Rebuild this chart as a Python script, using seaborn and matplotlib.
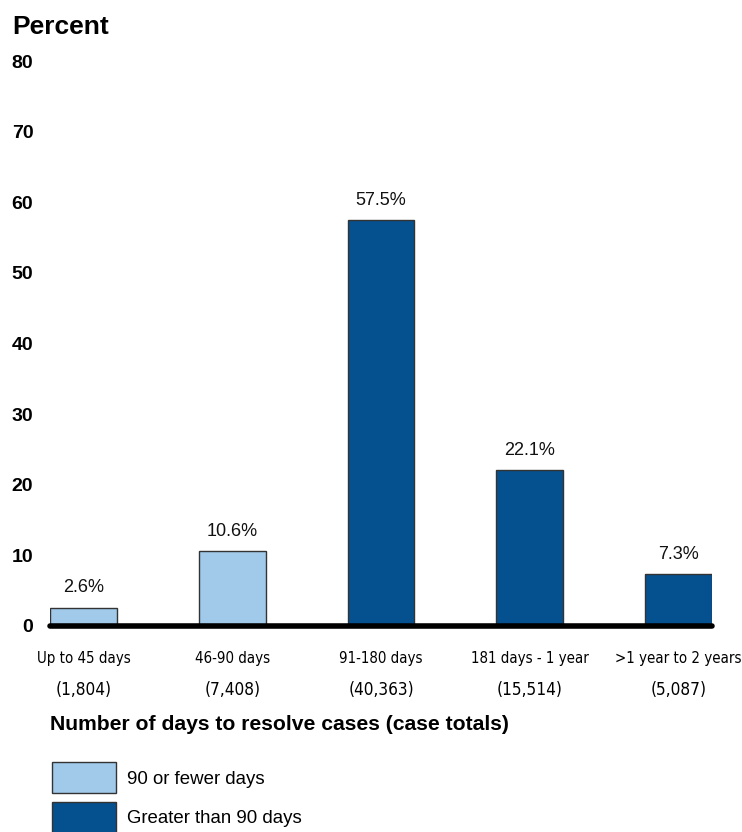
import matplotlib
matplotlib.use("Agg")
import matplotlib.pyplot as plt
import seaborn as sns
import pandas as pd

categories = ["Up to 45 days", "46-90 days", "91-180 days", "181 days - 1 year", ">1 year to 2 years"]
case_totals = ["(1,804)", "(7,408)", "(40,363)", "(15,514)", "(5,087)"]
percents = [2.6, 10.6, 57.5, 22.1, 7.3]
groups = ["90 or fewer days", "90 or fewer days", "Greater than 90 days", "Greater than 90 days", "Greater than 90 days"]
yticks = [0, 10, 20, 30, 40, 50, 60, 70, 80]

palette = {"90 or fewer days": "#A0C9EA", "Greater than 90 days": "#05508F"}

df = pd.DataFrame({"category": categories, "percent": percents, "group": groups})

sns.set_theme(style="white")
plt.rcParams["font.family"] = ["Liberation Sans", "DejaVu Sans"]
plt.rcParams["text.color"] = "black"
plt.rcParams["ytick.color"] = "black"
plt.rcParams["ytick.labelcolor"] = "black"

narrow = ["Liberation Sans Narrow", "DejaVu Sans"]

fig = plt.figure(figsize=(7.42, 8.32), dpi=100)
ax = fig.add_axes([50 / 742, 1 - 626 / 832, 662 / 742, 565 / 832])

sns.barplot(data=df, x="category", y="percent", hue="group", palette=palette,
            dodge=False, width=0.45, edgecolor="#333333", linewidth=1.0,
            saturation=1, legend=True, ax=ax)

ax.set_ylim(0, 80)
ax.set_xlim(-0.225, 4.225)
ax.set_yticks(yticks)
ax.set_yticklabels([str(t) for t in yticks], fontsize=14, fontweight="bold", color="black")
ax.tick_params(axis="y", length=0, pad=12)
ax.tick_params(axis="x", length=0)
ax.set_xticks([])
ax.set_xlabel("")
ax.set_ylabel("")
for side in ["top", "right", "left", "bottom"]:
    ax.spines[side].set_visible(False)
ax.axhline(0, color="black", linewidth=4, clip_on=False, zorder=5)

# value labels above bars
for i, v in enumerate(percents):
    ax.text(i, v + 1.6, f"{v}%", ha="center", va="bottom", fontsize=13, color="#111111")

# category names and case totals beneath the axis
for i, (c, n) in enumerate(zip(categories, case_totals)):
    ax.annotate(c, xy=(i, 0), xycoords="data", xytext=(0, -33), textcoords="offset pixels",
                ha="center", va="center", fontsize=10.8, family=narrow, fontstretch="condensed",
                color="black")
    ax.annotate(n, xy=(i, 0), xycoords="data", xytext=(0, -64), textcoords="offset pixels",
                ha="center", va="center", fontsize=12.3, family=narrow, fontstretch="condensed",
                color="black")

fig.text(12 / 742, 1 - 27 / 832, "Percent", fontsize=19, fontweight="bold", ha="left", va="center")
fig.text(50 / 742, 1 - 724 / 832, "Number of days to resolve cases (case totals)",
         fontsize=15.2, fontweight="bold", ha="left", va="center")

handles, labels = ax.get_legend_handles_labels()
ax.get_legend().remove()
fig.legend(handles, labels, loc="upper left", bbox_to_anchor=(45 / 742, 1 - 755 / 832),
           frameon=False, fontsize=13.4, handlelength=3.4, handleheight=2.15,
           handletextpad=0.6, labelspacing=0.5, borderaxespad=0)

fig.savefig("out.png", dpi=100)
